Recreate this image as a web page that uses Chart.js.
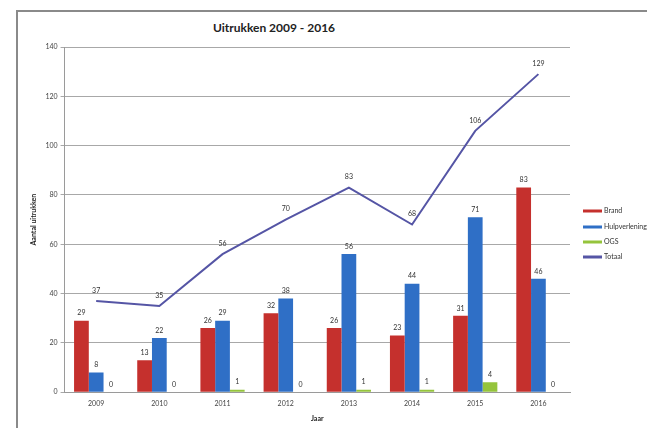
<!DOCTYPE html>
<html>
<head>
<meta charset="utf-8">
<script src="https://cdn.jsdelivr.net/npm/chart.js@4"></script>
<style>
  html, body { margin: 0; padding: 0; background: #fff; }
  #wrap { position: relative; width: 647px; height: 428px; overflow: hidden; }
  #frame { position: absolute; left: 16px; top: 10px; width: 700px; height: 500px;
           border-left: 2px solid #8a8a8a; border-top: 2px solid #8a8a8a; }
  #title { position: absolute; top: 20px; left: 174px; width: 200px; text-align: center;
           font: bold 12px Lato, "Open Sans", sans-serif; color: #222; }
  canvas { position: absolute; left: 0; top: 0; }
</style>
</head>
<body>
<div id="wrap">
  <div id="frame"></div>
  <div id="title">Uitrukken 2009 - 2016</div>
  <canvas id="chart" width="647" height="428"></canvas>
</div>
<script>
// data
const years = ['2009', '2010', '2011', '2012', '2013', '2014', '2015', '2016'];
const brand = [29, 13, 26, 32, 26, 23, 31, 83];
const hulpverlening = [8, 22, 29, 38, 56, 44, 71, 46];
const ogs = [0, 0, 1, 0, 1, 1, 4, 0];
const totaal = [37, 35, 56, 70, 83, 68, 106, 129];
const yTicks = [0, 20, 40, 60, 80, 100, 120, 140];

const fontFam = 'Lato, "Open Sans", sans-serif';

// value labels above bars and line points
const valueLabels = {
    id: 'valueLabels',
    afterDatasetsDraw(chart) {
        const ctx = chart.ctx;
        ctx.save();
        ctx.font = '7px ' + fontFam;
        ctx.fillStyle = '#333';
        ctx.textAlign = 'center';
        ctx.textBaseline = 'bottom';
        chart.data.datasets.forEach((ds, i) => {
            const meta = chart.getDatasetMeta(i);
            meta.data.forEach((el, j) => {
                const off = ds.type === 'line' ? 7 : 4;
                ctx.fillText(ds.data[j], el.x, el.y - off);
            });
        });
        ctx.restore();
    }
};

// legend on the right, like the Excel original
const sideLegend = {
    id: 'sideLegend',
    afterDraw(chart) {
        const ctx = chart.ctx;
        ctx.save();
        ctx.font = '7px ' + fontFam;
        ctx.textBaseline = 'middle';
        const rows = [211, 227, 242, 257];
        chart.data.datasets.forEach((ds, i) => {
            const y = rows[i];
            ctx.strokeStyle = ds.borderColor;
            ctx.lineWidth = 3;
            ctx.beginPath();
            ctx.moveTo(583, y);
            ctx.lineTo(602, y);
            ctx.stroke();
            ctx.fillStyle = '#333';
            ctx.fillText(ds.label, 604, y);
        });
        ctx.restore();
    }
};

const ctx = document.getElementById('chart').getContext('2d');
const chart = new Chart(ctx, {
    type: 'bar',
    data: {
        labels: years,
        datasets: [
            {
                label: 'Brand',
                data: brand,
                backgroundColor: '#c5302d',
                borderColor: '#c5302d',
                order: 1
            },
            {
                label: 'Hulpverlening',
                data: hulpverlening,
                backgroundColor: '#2f6fc6',
                borderColor: '#2f6fc6',
                order: 1
            },
            {
                label: 'OGS',
                data: ogs,
                backgroundColor: '#95c43c',
                borderColor: '#95c43c',
                order: 1
            },
            {
                type: 'line',
                label: 'Totaal',
                data: totaal,
                borderColor: '#5555a5',
                backgroundColor: '#5555a5',
                borderWidth: 2,
                pointRadius: 0,
                tension: 0,
                order: 0
            }
        ]
    },
    options: {
        responsive: false,
        animation: false,
        layout: {
            padding: { left: 30, right: 77, top: 47, bottom: 5 }
        },
        datasets: {
            bar: { categoryPercentage: 0.7, barPercentage: 1.0 }
        },
        scales: {
            x: {
                grid: { display: false, drawTicks: true, tickLength: 4 },
                border: { color: '#9a9a9a', width: 1 },
                ticks: { color: '#444', font: { size: 7, family: fontFam }, padding: 3 },
                title: { display: true, text: 'Jaar', color: '#222',
                         font: { size: 7, weight: 'bold', family: fontFam }, padding: { top: 4, bottom: 0 } }
            },
            y: {
                min: 0,
                max: 140,
                afterBuildTicks(axis) {
                    axis.ticks = yTicks.map(v => ({ value: v }));
                },
                grid: { color: '#a8a8a8', lineWidth: 1, tickLength: 4 },
                border: { color: '#9a9a9a', width: 1 },
                ticks: { color: '#444', font: { size: 7, family: fontFam }, padding: 3 },
                title: { display: true, text: 'Aantal uitrukken', color: '#222',
                         font: { size: 7, weight: 'bold', family: fontFam }, padding: { top: 0, bottom: 4 } }
            }
        },
        plugins: {
            legend: { display: false },
            title: { display: false },
            tooltip: { enabled: false }
        }
    },
    plugins: [valueLabels, sideLegend]
});
</script>
</body>
</html>
